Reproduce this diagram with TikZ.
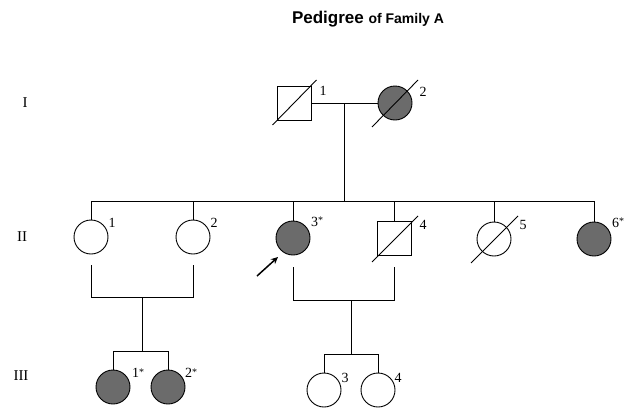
\documentclass[tikz,border=0pt]{standalone}
\usepackage{fontspec}
\setmainfont{Liberation Serif}
\newfontfamily\titlefont{Liberation Sans}
\usetikzlibrary{calc,arrows.meta}
\begin{document}
\begin{tikzpicture}[x=1pt,y=-1pt,
  ln/.style={line width=0.9pt},
  fem/.style={circle,draw,line width=0.9pt,minimum size=34pt,inner sep=0pt},
  male/.style={rectangle,draw,line width=0.9pt,minimum size=34pt,inner sep=0pt},
  aff/.style={fill=black!58},
  lab/.style={inner sep=0pt,font=\fontsize{14}{14}\selectfont},
  gen/.style={inner sep=0pt,font=\fontsize{15}{15}\selectfont},
  dead/.style={line width=0.9pt}]
\useasboundingbox (0,0) rectangle (629,407);
% title
\node[inner sep=0pt] (title) at (368,19) {\titlefont\bfseries\fontsize{17}{17}\selectfont Pedigree \fontsize{14}{14}\selectfont of Family A};
% generation labels
\node[gen] (gI) at (25,103) {I};
\node[gen] (gII) at (22,237) {II};
\node[gen] (gIII) at (21,376) {III};
% generation I
\node[male] (I1) at (294.5,103) {};
\node[fem,aff] (I2) at (395,103) {};
% generation II
\node[fem] (II1) at (91,237) {};
\node[fem] (II2) at (193,237) {};
\node[fem,aff] (II3) at (293,238) {};
\node[male] (II4) at (394,238) {};
\node[fem] (II5) at (494,239) {};
\node[fem,aff] (II6) at (594,239) {};
% generation III
\node[fem,aff] (III1) at (113,387) {};
\node[fem,aff] (III2) at (168,387) {};
\node[fem] (III3) at (324,390) {};
\node[fem] (III4) at (378,390) {};
% deceased slashes
\draw[dead] ($(I1.center)+(-22,22)$) -- ($(I1.center)+(22,-23)$);
\draw[dead] ($(I2.center)+(-23,24)$) -- ($(I2.center)+(23,-23)$);
\draw[dead] ($(II4.center)+(-22,24)$) -- ($(II4.center)+(24,-22)$);
\draw[dead] ($(II5.center)+(-23,24)$) -- ($(II5.center)+(24,-23)$);
% labels
\node[lab] (lI1) at (323,91) {1};
\node[lab] (lI2) at (423,92) {2};
\node[lab] (lII1) at (112,223) {1};
\node[lab] (lII2) at (214,223) {2};
\node[lab] (lII3) at (317,222) {3\raisebox{0.4ex}{\fontsize{10}{10}\selectfont *}};
\node[lab] (lII4) at (423,225) {4};
\node[lab] (lII5) at (523,225) {5};
\node[lab] (lII6) at (618,223) {6\raisebox{0.4ex}{\fontsize{10}{10}\selectfont *}};
\node[lab] (lIII1) at (138,373) {1\raisebox{0.4ex}{\fontsize{10}{10}\selectfont *}};
\node[lab] (lIII2) at (191,373) {2\raisebox{0.4ex}{\fontsize{10}{10}\selectfont *}};
\node[lab] (lIII3) at (345,378) {3};
\node[lab] (lIII4) at (398,378) {4};
% marriage I
\draw[ln] (I1.east) -- (I2.west);
\coordinate (m1) at (344,103);
\coordinate (s2) at (344,201);
\draw[ln] (m1) -- (s2);
% sibship II
\draw[ln] (II1.north |- s2) -- (II6.north |- s2);
\foreach \n in {II1,II2,II3,II4,II5,II6}
  \draw[ln] (\n.north) -- (\n.north |- s2);
% mating II1 - II2
\coordinate (p1) at (142,297);
\coordinate (s3) at (142,351);
\draw[ln] ($(II1.south)+(0,11)$) -- (II1.south |- p1) -- (II2.south |- p1) -- ($(II2.south)+(0,11)$);
\draw[ln] (p1) -- (s3);
\draw[ln] (III1.north) -- (III1.north |- s3) -- (III2.north |- s3) -- (III2.north);
% mating II3 - II4
\coordinate (p2) at (351,300);
\coordinate (s4) at (351,354);
\draw[ln] ($(II3.south)+(0,12)$) -- (II3.south |- p2) -- (II4.south |- p2) -- ($(II4.south)+(0,12)$);
\draw[ln] (p2) -- (s4);
\draw[ln] (III3.north) -- (III3.north |- s4) -- (III4.north |- s4) -- (III4.north);
% proband arrow
\coordinate (arrS) at (257,276);
\coordinate (arrE) at (278,257);
\draw[line width=1.5pt,-{Stealth[length=7pt,width=6.5pt]}] (arrS) -- (arrE);
\end{tikzpicture}
\end{document}
